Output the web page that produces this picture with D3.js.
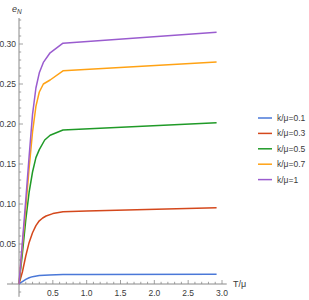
<!DOCTYPE html>
<html><head><meta charset="utf-8">
<script src="https://cdn.jsdelivr.net/npm/d3@7"></script>
<style>body{margin:0;background:#fff}svg{display:block}text{font-family:"Liberation Sans",Arial,sans-serif}</style>
</head><body><svg id="c" width="309" height="300"></svg>
<script>
const labels = ["k/\u03bc=0.1","k/\u03bc=0.3","k/\u03bc=0.5","k/\u03bc=0.7","k/\u03bc=1"];
const colors = ["#4a78d8","#d4481c","#1f9a27","#ffa214","#9a5ccf"];
const T_blue   = [0,0.025,0.05,0.1,0.15,0.2,0.3,0.45,0.65,1.0,2.92];
const v_blue   = [0,0.0016,0.003,0.0058,0.0078,0.0092,0.0105,0.0114,0.0118,0.012,0.0122];
const T_red    = [0,0.05,0.1,0.15,0.2,0.25,0.3,0.35,0.4,0.5,0.65,1.0,2.92];
const v_red    = [0,0.015,0.035,0.052,0.064,0.073,0.079,0.0825,0.085,0.088,0.0903,0.0912,0.0954];
const T_green  = [0,0.05,0.1,0.15,0.2,0.25,0.3,0.38,0.46,0.65,2.92];
const v_green  = [0,0.038,0.08,0.115,0.14,0.158,0.168,0.18,0.186,0.1925,0.2015];
const T_orange = [0,0.05,0.1,0.15,0.2,0.25,0.3,0.36,0.46,0.65,2.92];
const v_orange = [0,0.048,0.095,0.145,0.19,0.222,0.24,0.25,0.255,0.2665,0.2775];
const T_purple = [0,0.05,0.1,0.15,0.2,0.25,0.3,0.36,0.46,0.65,2.92];
const v_purple = [0,0.052,0.105,0.16,0.212,0.245,0.264,0.277,0.289,0.301,0.3146];
const xTicks = [0.5,1.0,1.5,2.0,2.5,3.0];
const yTicks = [0.05,0.10,0.15,0.20,0.25,0.30];

const series = [[T_blue,v_blue],[T_red,v_red],[T_green,v_green],[T_orange,v_orange],[T_purple,v_purple]]
  .map(([t,v]) => t.map((x,i)=>({x, y:v[i]})));

const svg = d3.select("#c");
const x = d3.scaleLinear().domain([0,3]).range([19,222]);
const y = d3.scaleLinear().domain([0,0.30]).range([284,44]);
const axisCol = "#8a8a8a", labCol = "#3a3a3a";

svg.append("line").attr("x1",x(-0.177)).attr("x2",x(3.07)).attr("y1",y(0)).attr("y2",y(0)).attr("stroke",axisCol).attr("stroke-width",1);
svg.append("line").attr("x1",x(0)).attr("x2",x(0)).attr("y1",y(-0.016)).attr("y2",y(0.3325)).attr("stroke",axisCol).attr("stroke-width",1);

const xMinor = d3.range(-1,31).map(i=>i/10).filter(v=>Math.abs(v)>1e-9);
svg.append("g").selectAll("line").data(xMinor).join("line")
  .attr("x1",d=>x(d)).attr("x2",d=>x(d))
  .attr("y1",y(0)).attr("y2",d=>y(0)-(Math.abs(d*2-Math.round(d*2))<1e-9?4:2.2))
  .attr("stroke",axisCol).attr("stroke-width",0.8);
svg.append("g").selectAll("text").data(xTicks).join("text")
  .attr("x",d=>x(d)).attr("y",y(0)+12).attr("text-anchor","middle")
  .attr("font-size",8.5).attr("fill",labCol).text(d=>d3.format(".1f")(d));
const yMinor = d3.range(-1,34).map(i=>i/100).filter(v=>Math.abs(v)>1e-9);
svg.append("g").selectAll("line").data(yMinor).join("line")
  .attr("y1",d=>y(d)).attr("y2",d=>y(d))
  .attr("x1",x(0)).attr("x2",d=>x(0)+(Math.round(d*100)%5===0?4:2.2))
  .attr("stroke",axisCol).attr("stroke-width",0.8);
svg.append("g").selectAll("text").data(yTicks).join("text")
  .attr("x",x(0)-3).attr("y",d=>y(d)+3).attr("text-anchor","end")
  .attr("font-size",8.5).attr("fill",labCol).text(d=>d3.format(".2f")(d));

const yl = svg.append("text").attr("x",12).attr("y",12).attr("font-size",9).attr("fill",labCol).attr("font-style","italic");
yl.append("tspan").text("e");
yl.append("tspan").attr("font-size",6.5).attr("dy",2).text("N");
svg.append("text").attr("x",233).attr("y",y(0)+3).attr("font-size",9).attr("fill",labCol).text("T/\u03bc");

const line = d3.line().x(d=>x(d.x)).y(d=>y(d.y)).curve(d3.curveLinear);
svg.append("g").selectAll("path").data(series).join("path")
  .attr("d",line).attr("fill","none").attr("stroke",(d,i)=>colors[i]).attr("stroke-width",1.5)
  .attr("stroke-linejoin","round");

const lg = svg.append("g").selectAll("g").data(labels).join("g")
  .attr("transform",(d,i)=>`translate(258,${118+i*15.4})`);
lg.append("line").attr("x1",0).attr("x2",14).attr("stroke",(d,i)=>colors[i]).attr("stroke-width",1.5);
lg.append("text").attr("x",19).attr("y",3).attr("font-size",8.5).attr("fill",labCol).text(d=>d);
</script></body></html>
